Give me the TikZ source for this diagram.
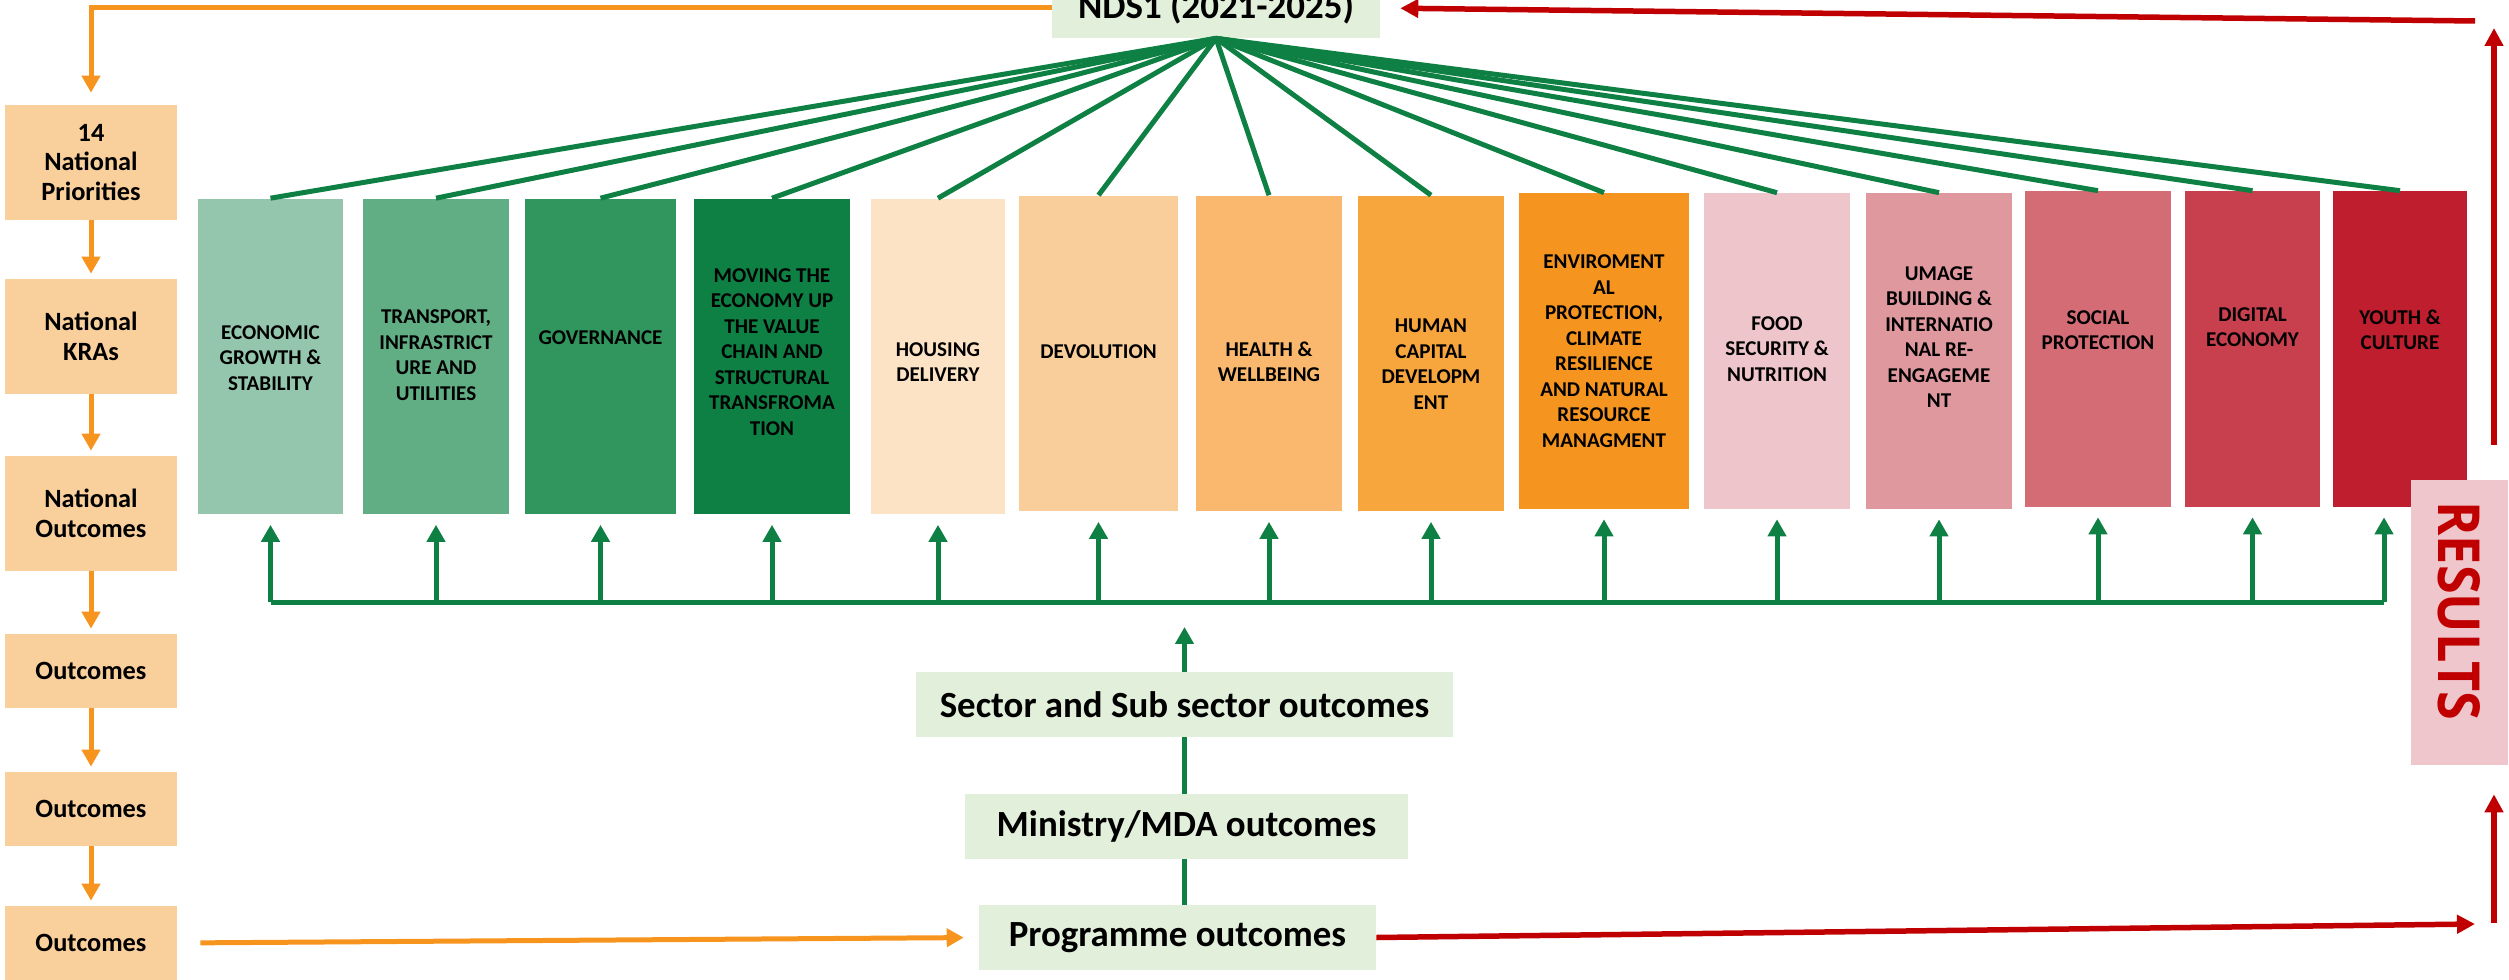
\documentclass[tikz,border=0pt]{standalone}
\usepackage{fontspec}
\setmainfont{Carlito}
\newfontfamily\resultsfont{Open Sans}
\usetikzlibrary{arrows.meta}

\definecolor{peach}{HTML}{F9CF9C}
\definecolor{paleGreen}{HTML}{E2EFDA}
\definecolor{lineGreen}{HTML}{0E8043}
\definecolor{lineOrange}{HTML}{F7941D}
\definecolor{lineRed}{HTML}{C00000}
\definecolor{resPink}{HTML}{EFC6CB}
\definecolor{colA}{HTML}{93C6AC}
\definecolor{colB}{HTML}{62AE84}
\definecolor{colC}{HTML}{31955E}
\definecolor{colD}{HTML}{0E8043}
\definecolor{colE}{HTML}{FCE3C5}
\definecolor{colF}{HTML}{F9CE9B}
\definecolor{colG}{HTML}{F9B86D}
\definecolor{colH}{HTML}{F7A53D}
\definecolor{colI}{HTML}{F5951F}
\definecolor{colJ}{HTML}{EEC5CA}
\definecolor{colK}{HTML}{E0989F}
\definecolor{colL}{HTML}{D46C76}
\definecolor{colM}{HTML}{C8404E}
\definecolor{colN}{HTML}{BE1E2D}

% name, x, y, width, colour, text y, text
\newcommand{\drawColumn}[7]{
    \node[colbox, fill=#5, minimum width=#4] (#1) at (#2,#3) {};
    \node[coltext] (#1t) at (#2,#6) {#7}
}

\begin{document}
\begin{tikzpicture}[x=0.02cm, y=-0.02cm,
    colbox/.style={rectangle, inner sep=0pt, minimum height=6.32cm},
    coltext/.style={align=center, inner sep=0pt, font=\bfseries\fontsize{12}{14.5}\selectfont},
    leftbox/.style={rectangle, fill=peach, inner sep=0pt, minimum width=3.44cm, align=center, font=\bfseries\fontsize{15}{17}\selectfont},
    midbox/.style={rectangle, fill=paleGreen, inner sep=0pt, minimum height=1.3cm, font=\bfseries\fontsize{21}{25}\selectfont},
    gline/.style={draw=lineGreen, line width=0.1cm},
    garrow/.style={gline, -{Triangle[length=0.34cm,width=0.36cm]}},
    oarrow/.style={draw=lineOrange, line width=0.1cm, -{Triangle[length=0.34cm,width=0.36cm]}},
    rarrow/.style={draw=lineRed, line width=0.11cm, -{Triangle[length=0.36cm,width=0.36cm]}}
]
    \useasboundingbox (0,0) rectangle (2509,980);

    % left column
    \node[leftbox, minimum height=2.3cm] (n1) at (91,162.5) {14\\National\\Priorities};
    \node[leftbox, minimum height=2.3cm] (n2) at (91,336.5) {National\\KRAs};
    \node[leftbox, minimum height=2.3cm] (n3) at (91,513.5) {National\\Outcomes};
    \node[leftbox, minimum height=1.48cm] (n4) at (91,671) {Outcomes};
    \node[leftbox, minimum height=1.48cm] (n5) at (91,809) {Outcomes};
    \node[leftbox, minimum height=1.48cm] (n6) at (91,943) {Outcomes};

    % plan and outcome boxes
    \node[midbox, minimum width=6.56cm, minimum height=1.2cm] (nds) at (1216,8) {NDS1 (2021-2025)};
    \node[midbox, minimum width=10.74cm] (sec) at (1184.5,704.5) {Sector and Sub sector outcomes};
    \node[midbox, minimum width=8.86cm] (min) at (1186.5,826.5) {Ministry/MDA outcomes};
    \node[midbox, minimum width=7.94cm] (prog) at (1177.5,937.5) {Programme outcomes};

    % priorities
    \drawColumn{p1}{270.5}{356.5}{2.9cm}{colA}{358}{ECONOMIC\\GROWTH \&\\STABILITY};
    \drawColumn{p2}{436}{356.5}{2.92cm}{colB}{355}{TRANSPORT,\\INFRASTRICT\\URE AND\\UTILITIES};
    \drawColumn{p3}{600.5}{356.5}{3.02cm}{colC}{338}{GOVERNANCE};
    \drawColumn{p4}{772}{356.5}{3.12cm}{colD}{352}{MOVING THE\\ECONOMY UP\\THE VALUE\\CHAIN AND\\STRUCTURAL\\TRANSFROMA\\TION};
    \drawColumn{p5}{938}{356.5}{2.68cm}{colE}{362}{HOUSING\\DELIVERY};
    \drawColumn{p6}{1098.5}{353.5}{3.18cm}{colF}{352}{DEVOLUTION};
    \drawColumn{p7}{1269}{353.5}{2.92cm}{colG}{362}{HEALTH \&\\WELLBEING};
    \drawColumn{p8}{1431}{353.5}{2.92cm}{colH}{364}{HUMAN\\CAPITAL\\DEVELOPM\\ENT};
    \drawColumn{p9}{1604}{351}{3.4cm}{colI}{351}{ENVIROMENT\\AL\\PROTECTION,\\CLIMATE\\RESILIENCE\\AND NATURAL\\RESOURCE\\MANAGMENT};
    \drawColumn{p10}{1777}{351}{2.92cm}{colJ}{349}{FOOD\\SECURITY \&\\NUTRITION};
    \drawColumn{p11}{1939}{351}{2.92cm}{colK}{337}{UMAGE\\BUILDING \&\\INTERNATIO\\NAL RE-\\ENGAGEME\\NT};
    \drawColumn{p12}{2098}{349}{2.92cm}{colL}{330}{SOCIAL\\PROTECTION};
    \drawColumn{p13}{2252.5}{349}{2.7cm}{colM}{327}{DIGITAL\\ECONOMY};
    \drawColumn{p14}{2400}{349}{2.68cm}{colN}{330}{YOUTH \&\\CULTURE};

    % results box sits over the last column
    \node[rectangle, fill=resPink, minimum width=1.94cm, minimum height=5.7cm] (res) at (2459.5,622.5) {};
    \node[rotate=-90, xscale=0.9, inner sep=0pt, text=lineRed, font=\resultsfont\bfseries\fontsize{33}{38}\selectfont] (rest) at (2459,611) {RESULTS};

    % fan from NDS1
    \draw[gline] (nds.south) -- (p1.north);
    \draw[gline] (nds.south) -- (p2.north);
    \draw[gline] (nds.south) -- (p3.north);
    \draw[gline] (nds.south) -- (p4.north);
    \draw[gline] (nds.south) -- (p5.north);
    \draw[gline] (nds.south) -- (p6.north);
    \draw[gline] (nds.south) -- (p7.north);
    \draw[gline] (nds.south) -- (p8.north);
    \draw[gline] (nds.south) -- (p9.north);
    \draw[gline] (nds.south) -- (p10.north);
    \draw[gline] (nds.south) -- (p11.north);
    \draw[gline] (nds.south) -- (p12.north);
    \draw[gline] (nds.south) -- (p13.north);
    \draw[gline] (nds.south) -- (p14.north);

    % outcomes bus
    \coordinate (bus) at (0,602);
    \draw[gline] (p1.south |- bus) -- ([xshift=-0.32cm]p14.south |- bus);
    \draw[garrow, shorten >=0.2cm] (p1.south |- bus) -- (p1.south);
    \draw[garrow, shorten >=0.2cm] (p2.south |- bus) -- (p2.south);
    \draw[garrow, shorten >=0.2cm] (p3.south |- bus) -- (p3.south);
    \draw[garrow, shorten >=0.2cm] (p4.south |- bus) -- (p4.south);
    \draw[garrow, shorten >=0.2cm] (p5.south |- bus) -- (p5.south);
    \draw[garrow, shorten >=0.2cm] (p6.south |- bus) -- (p6.south);
    \draw[garrow, shorten >=0.2cm] (p7.south |- bus) -- (p7.south);
    \draw[garrow, shorten >=0.2cm] (p8.south |- bus) -- (p8.south);
    \draw[garrow, shorten >=0.2cm] (p9.south |- bus) -- (p9.south);
    \draw[garrow, shorten >=0.2cm] (p10.south |- bus) -- (p10.south);
    \draw[garrow, shorten >=0.2cm] (p11.south |- bus) -- (p11.south);
    \draw[garrow, shorten >=0.2cm] (p12.south |- bus) -- (p12.south);
    \draw[garrow, shorten >=0.2cm] (p13.south |- bus) -- (p13.south);
    \draw[garrow, shorten >=0.2cm] ([xshift=-0.32cm]p14.south |- bus) -- ([xshift=-0.32cm]p14.south);

    \draw[gline] (prog.north -| sec.south) -- (min.south -| sec.south);
    \draw[gline] (min.north -| sec.south) -- (sec.south);
    \draw[garrow, shorten >=0.5cm] (sec.north) -- (sec.north |- bus);

    % orange chain
    \draw[oarrow, shorten >=0.24cm] (nds.west) -| (n1.north);
    \draw[oarrow, shorten >=0.1cm] (n1.south) -- (n2.north);
    \draw[oarrow, shorten >=0.1cm] (n2.south) -- (n3.north);
    \draw[oarrow, shorten >=0.1cm] (n3.south) -- (n4.north);
    \draw[oarrow, shorten >=0.1cm] (n4.south) -- (n5.north);
    \draw[oarrow, shorten >=0.1cm] (n5.south) -- (n6.north);
    \draw[oarrow, shorten <=0.46cm, shorten >=0.3cm] (n6.east) -- (prog.west);

    % results loop
    \coordinate (rbend) at (2475,924);
    \coordinate (rlow) at (2494,923);
    \coordinate (rtop) at (2494,28);
    \coordinate (rret) at (2475,21);
    \draw[rarrow] (prog.east) -- (rbend);
    \draw[rarrow, shorten >=0.58cm] (rlow) -- (rlow |- res.south);
    \draw[rarrow, shorten <=0.7cm] (rtop |- res.north) -- (rtop);
    \draw[rarrow, shorten >=0.4cm] (rret) -- (nds.east);
\end{tikzpicture}
\end{document}
